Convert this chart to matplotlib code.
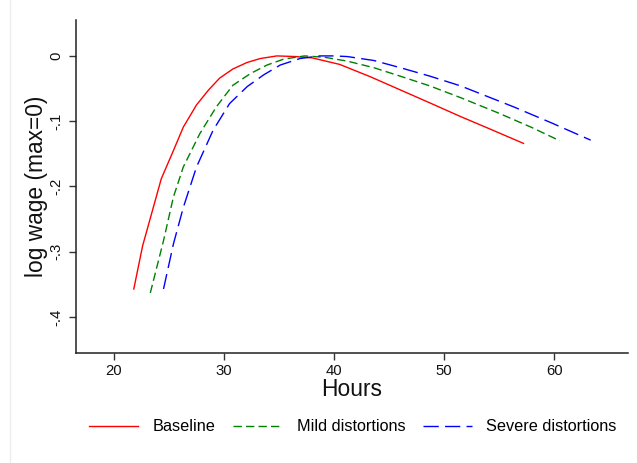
import matplotlib
matplotlib.use("Agg")
import matplotlib.pyplot as plt
from matplotlib.lines import Line2D
from matplotlib.ticker import FuncFormatter

# Wage-hours profiles (log wage normalised so that max = 0)
hours_base = [21.8, 22.6, 24.3, 25.4, 26.3, 27.5, 28.6, 29.6, 30.8, 32.1,
              33.3, 34.8, 36.5, 38.0, 40.5, 43.3, 46.0, 48.7, 51.5, 54.3, 57.2]
wage_base = [-0.357, -0.291, -0.188, -0.145, -0.109, -0.075, -0.052, -0.034,
             -0.020, -0.010, -0.004, 0.000, -0.001, -0.003, -0.013, -0.032,
             -0.052, -0.072, -0.093, -0.113, -0.134]

hours_mild = [23.3, 24.5, 25.4, 26.3, 27.8, 29.3, 30.8, 32.4, 33.9, 35.4,
              37.3, 39.1, 41.2, 43.6, 46.0, 48.7, 51.5, 55.0, 58.0, 60.5]
wage_mild = [-0.363, -0.283, -0.216, -0.170, -0.119, -0.078, -0.045, -0.027,
             -0.014, -0.005, 0.000, -0.002, -0.008, -0.018, -0.031, -0.046,
             -0.064, -0.088, -0.110, -0.130]

hours_severe = [24.5, 25.4, 26.3, 27.5, 29.0, 30.5, 32.1, 33.6, 35.1, 36.9,
                38.7, 40.0, 41.2, 43.6, 46.0, 48.7, 51.5, 56.3, 59.8, 63.3]
wage_severe = [-0.357, -0.288, -0.232, -0.170, -0.114, -0.073, -0.047, -0.029,
               -0.014, -0.004, 0.000, 0.000, -0.001, -0.007, -0.018, -0.031,
               -0.046, -0.078, -0.103, -0.129]

labels = ["Baseline", "Mild distortions", "Severe distortions"]
x_ticks = [20, 30, 40, 50, 60]
y_ticks = [0, -0.1, -0.2, -0.3, -0.4]

plt.rcParams["font.family"] = ["Liberation Sans", "DejaVu Sans"]

fig = plt.figure(figsize=(6.37, 4.63), dpi=100)
ax = fig.add_axes([0.1193, 0.2376, 0.8667, 0.7192])

ax.plot(hours_base, wage_base, color="#ff0000", lw=1.0, label=labels[0])
ax.plot(hours_mild, wage_mild, color="#008000", lw=1.0,
        dashes=(6, 3), label=labels[1])
ax.plot(hours_severe, wage_severe, color="#0000ff", lw=1.0,
        dashes=(11, 4.5), label=labels[2])

ax.set_xlim(16.55, 66.7)
ax.set_ylim(-0.455, 0.055)
ax.set_xticks(x_ticks)
ax.set_yticks(y_ticks)


def stata_fmt(v, pos):
    if abs(v) < 1e-9:
        return "0"
    s = f"{v:.1f}"
    return s.replace("0.", ".")


ax.yaxis.set_major_formatter(FuncFormatter(stata_fmt))
ax.tick_params(axis="both", direction="out", length=5, width=1.0,
               labelsize=10.7, color="#333333", labelcolor="#111111")
for lbl in ax.get_yticklabels():
    lbl.set_rotation(90)
    lbl.set_va("center")
ax.tick_params(axis="y", pad=4)
ax.tick_params(axis="x", pad=3)

for side in ("top", "right"):
    ax.spines[side].set_visible(False)
for side in ("left", "bottom"):
    ax.spines[side].set_linewidth(1.1)
    ax.spines[side].set_color("#222222")

ax.set_xlabel("Hours", fontsize=16.4, labelpad=0, color="#111111")
ax.set_ylabel("log wage (max=0)", fontsize=16.4, labelpad=1, color="#111111")

fig.legend(loc="center", bbox_to_anchor=(0.554, 0.078), ncol=3,
           frameon=False, fontsize=11.7, handlelength=3.0, handletextpad=0.9,
           columnspacing=1.1)

# light outer border on the left of the graph region
fig.add_artist(Line2D([10 / 637, 10 / 637], [0, 1], transform=fig.transFigure,
                      color="#eeeeee", lw=1.0))

fig.savefig("out.png", dpi=100, facecolor="white")
